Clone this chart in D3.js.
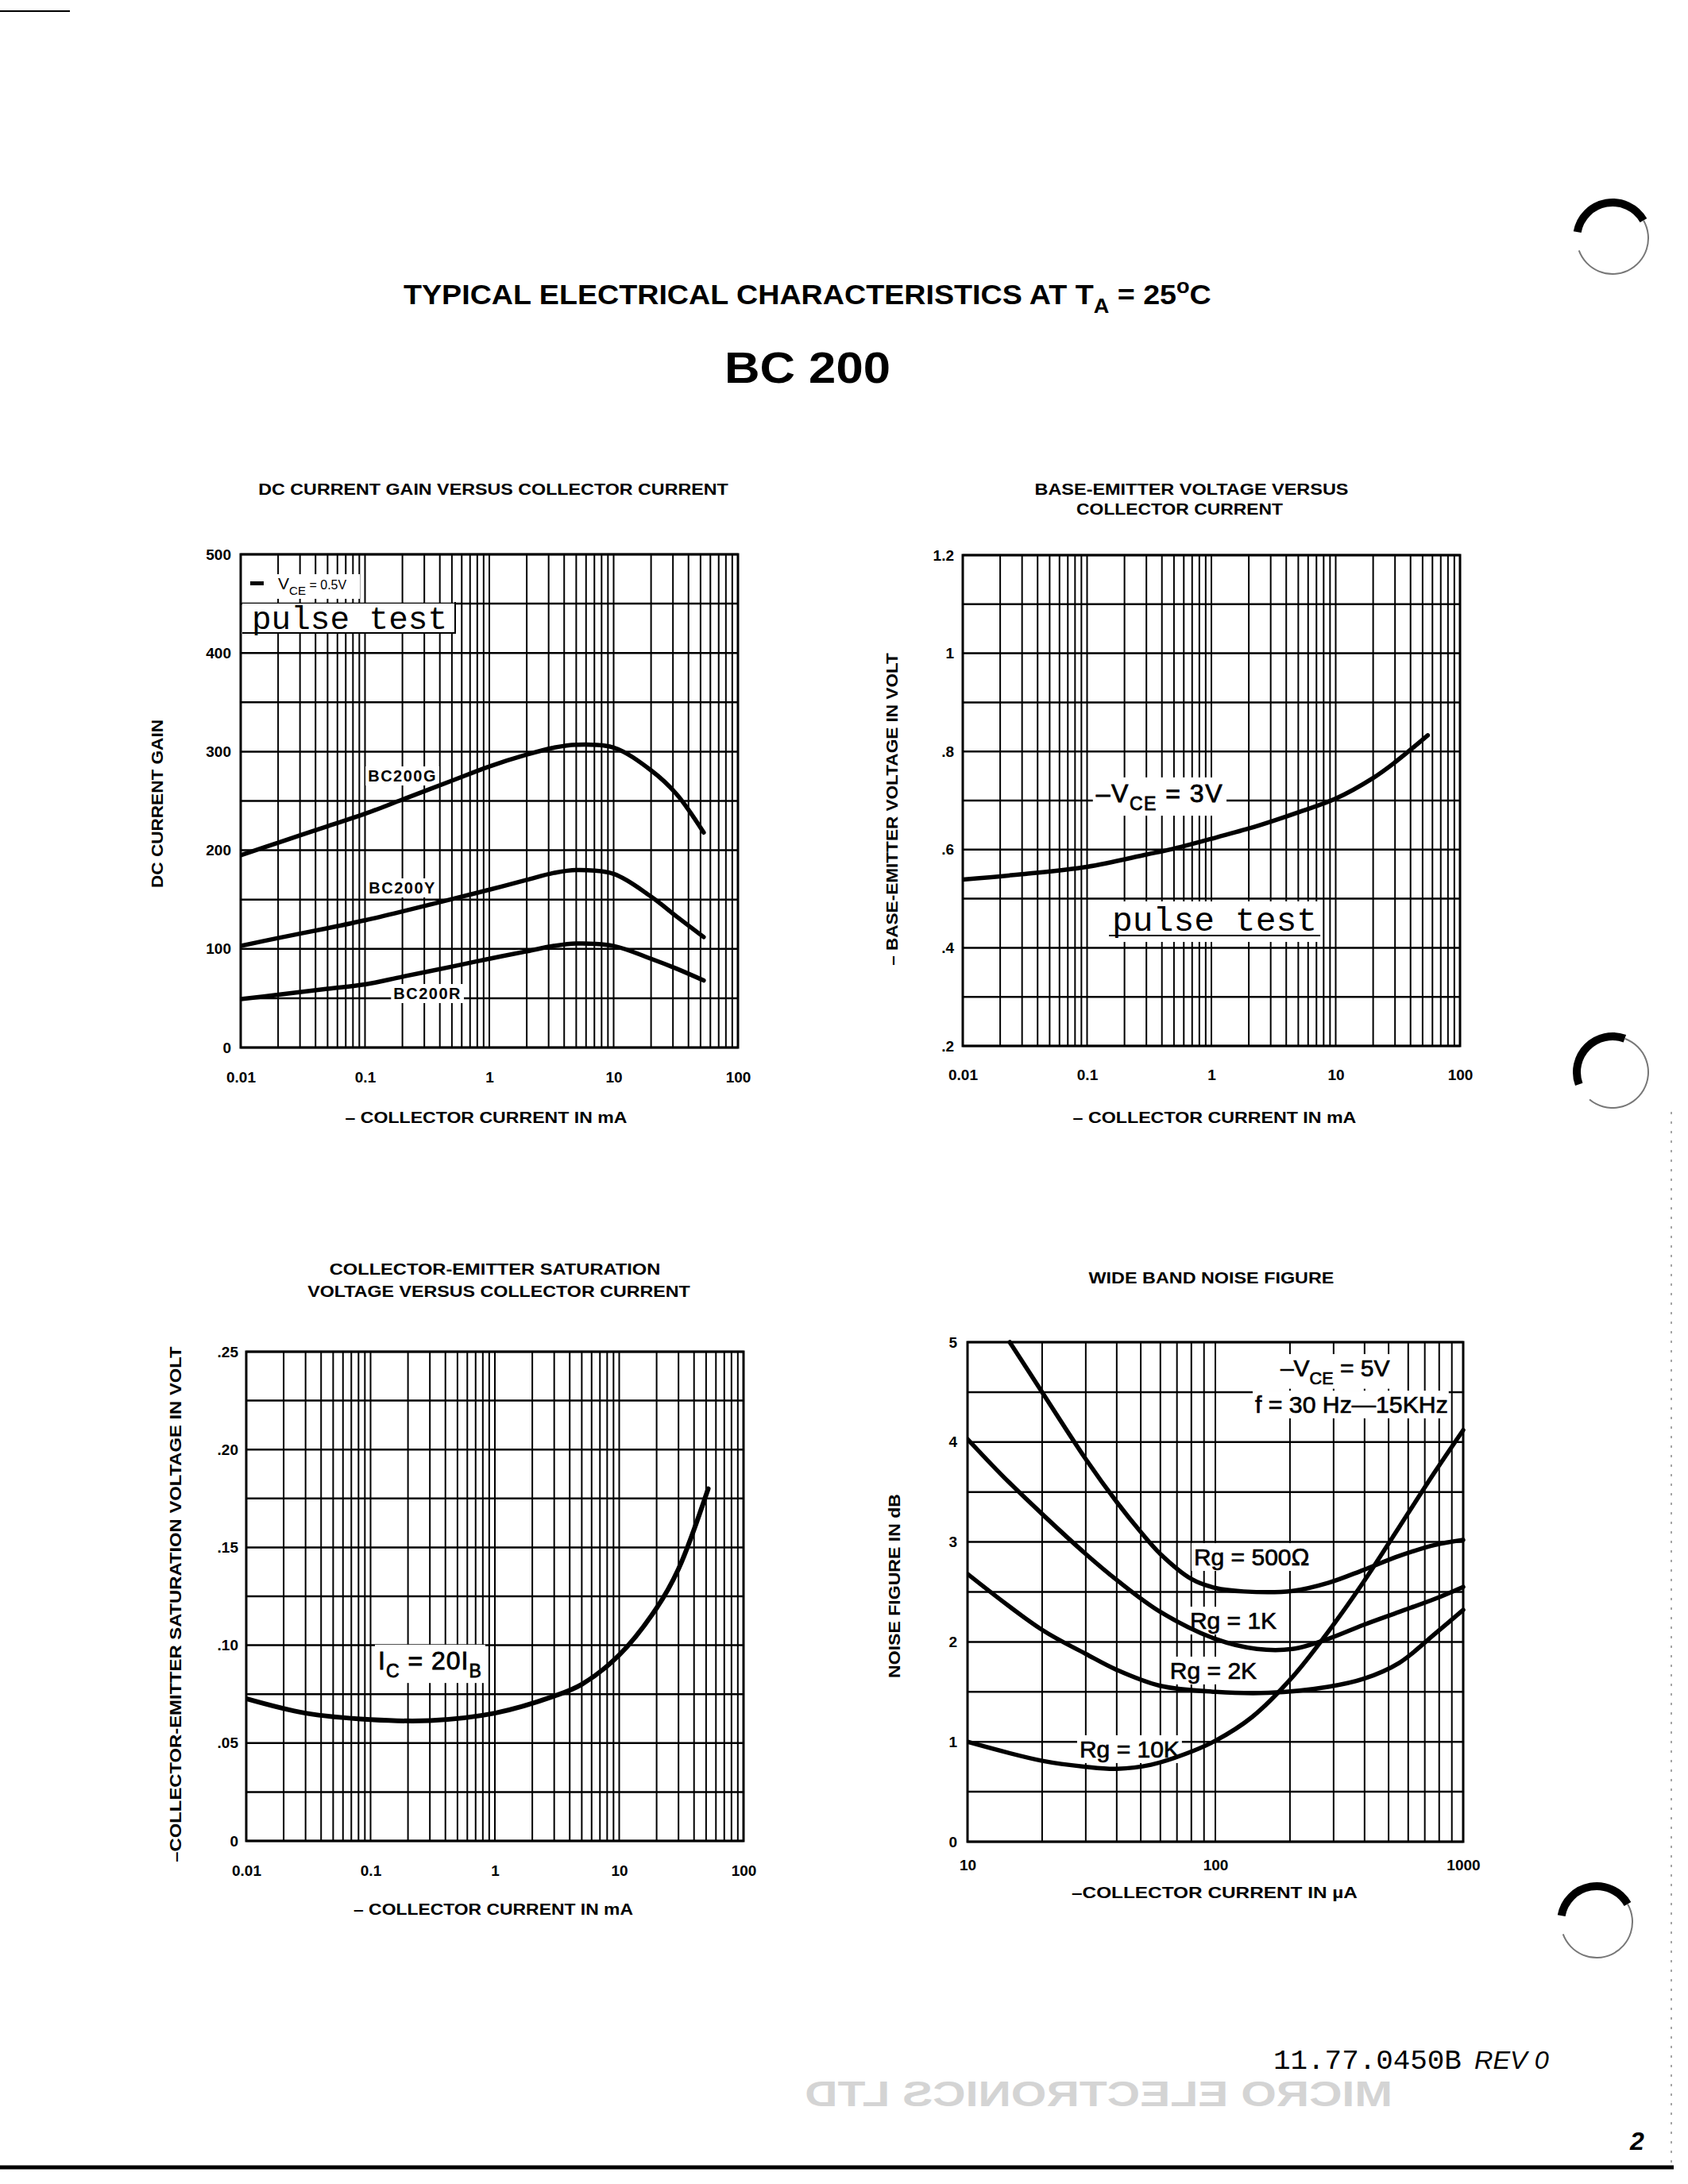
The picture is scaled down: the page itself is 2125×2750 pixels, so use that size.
<!DOCTYPE html>
<html><head><meta charset="utf-8">
<script src="https://cdn.jsdelivr.net/npm/d3@7"></script>
<style>
html,body{margin:0;padding:0;background:#fff;}
svg{display:block;}
</style></head><body>
<svg id="page" width="2125" height="2750"></svg>
<script>
// ================= DATA =================
// DC current gain vs collector current (mA)
const icGainX    = [0.01,0.02,0.05,0.1,0.2,0.5,1,2,3.3,5,10,20,32,53];
const gainBC200G = [195,207.6,224.4,237,251.4,270.5,285,297,304,307,304,281,257,218];
const gainBC200Y = [103,111,121,129,138,150.5,160,170,177,180,176,153,133,112];
const gainBC200R = [49,53.5,59.5,64,71.8,82,90,97.5,103,105.5,103,90,80,68];
const gainSeriesNames = ["BC200G","BC200Y","BC200R"];

// Base-emitter voltage vs collector current (mA)
const icVbeX = [0.01,0.03,0.1,0.3,0.5,1,2,3,5,10,20,30,55];
const vbeVolt = [0.539,0.55,0.565,0.59,0.602,0.622,0.643,0.657,0.676,0.704,0.746,0.778,0.833];

// Collector-emitter saturation voltage vs collector current (mA)
const icSatX = [0.01,0.03,0.1,0.3,1,3,5,10,20,30,52];
const vceSat = [0.0727,0.0653,0.062,0.0615,0.0653,0.074,0.080,0.095,0.119,0.139,0.180];

// Wide band noise figure (dB) vs collector current (uA)
const nfX500 = [14.8,20,30,40,50,60,80,100,130,205,285,396,552,768,1000];
const nf500  = [5,4.5,3.83,3.4,3.1,2.88,2.63,2.54,2.505,2.51,2.59,2.72,2.86,2.97,3.02];
const nfX1k  = [10,14,20,30,40,60,100,147,205,285,396,552,768,1000];
const nf1k   = [4.03,3.65,3.28,2.88,2.62,2.3,2.03,1.93,1.93,2.03,2.17,2.30,2.43,2.55];
const nfX2k  = [10,20,30,40,60,100,164,285,396,552,768,1000];
const nf2k   = [2.68,2.12,1.88,1.72,1.56,1.5,1.49,1.55,1.63,1.79,2.08,2.32];
const nfX10k = [10,20,30,40,55,76,100,141,205,285,396,552,768,1000];
const nf10k  = [1.0,0.81,0.75,0.73,0.77,0.88,1.01,1.25,1.65,2.1,2.6,3.15,3.7,4.12];
const nfSeriesNames = ["Rg = 500\u2126","Rg = 1K","Rg = 2K","Rg = 10K"];

// Ticks
const xTicksMA = [0.01,0.1,1,10,100];
const xTickLabelsMA = ["0.01","0.1","1","10","100"];
const xTicksUA = [10,100,1000];
const xTickLabelsUA = ["10","100","1000"];
const gainTicks = [0,100,200,300,400,500];
const gainTickLabels = ["0","100","200","300","400","500"];
const vbeTicks = [0.2,0.4,0.6,0.8,1,1.2];
const vbeTickLabels = [".2",".4",".6",".8","1","1.2"];
const satTicks = [0,0.05,0.1,0.15,0.2,0.25];
const satTickLabels = ["0",".05",".10",".15",".20",".25"];
const nfTicks = [0,1,2,3,4,5];
const nfTickLabels = ["0","1","2","3","4","5"];

// ================= DRAWING =================
const FONT = '"Liberation Sans", Arial, Helvetica, sans-serif';
const MONO = '"Liberation Mono", "Courier New", monospace';
const svg = d3.select('#page');
svg.append('rect').attr('width',2125).attr('height',2750).attr('fill','#fff');
const defs = svg.append('defs');

function fitWidth(sel, target){
  const w = sel.node().getBBox().width;
  if(!w) return sel;
  const k = target / w;
  const ax = +sel.attr('x') || 0;
  sel.attr('transform', `translate(${ax},0) scale(${k},1) translate(${-ax},0)`);
  return sel;
}
function txt(parent, x, y, s, o={}){
  const t = parent.append('text').attr('x',x).attr('y',y)
    .attr('font-family', o.family || FONT).attr('font-size', o.size || 20)
    .attr('font-weight', o.weight || 'normal').attr('text-anchor', o.anchor || 'start')
    .attr('fill','#000');
  if(o.style) t.attr('font-style', o.style);
  if(o.ls) t.attr('letter-spacing', o.ls);
  if(o.stroke) t.attr('stroke','#000').attr('stroke-width', o.stroke);
  if(Array.isArray(s)){
    let shift = 0;
    s.forEach(p=>{
      const [str, kind] = Array.isArray(p) ? p : [p,''];
      const target = kind==='sub' ? (o.size||20)*0.32 : kind==='sup' ? -(o.size||20)*0.4 : 0;
      const ts = t.append('tspan').text(str).attr('dy', target - shift);
      shift = target;
      if(kind) ts.attr('font-size', (o.size||20)*0.72);
    });
  } else t.text(s);
  if(o.width) fitWidth(t, o.width);
  return t;
}
function withBg(bgLayer, t, pad=4){
  const b = t.node().getBBox();
  bgLayer.append('rect').attr('x',b.x-pad).attr('y',b.y-pad+2)
    .attr('width',b.width+2*pad).attr('height',b.height+2*pad-4).attr('fill','#fff');
  return t;
}

function drawPanel(cfg){
  const b = cfg.box;
  const x = d3.scaleLog().domain(cfg.xDomain).range([b.left,b.right]);
  const y = d3.scaleLinear().domain(cfg.yDomain).range([b.bottom,b.top]);
  const g = svg.append('g');
  const gridG = g.append('g').attr('stroke','#000');
  gridG.selectAll('line.v').data(x.ticks()).join('line').attr('class','v')
    .attr('x1',d=>x(d)).attr('x2',d=>x(d)).attr('y1',b.top).attr('y2',b.bottom)
    .attr('stroke-width',2);
  const nH = Math.round((cfg.yDomain[1]-cfg.yDomain[0])/cfg.yGridStep);
  gridG.selectAll('line.h').data(d3.range(nH+1).map(i=>cfg.yDomain[0]+i*cfg.yGridStep)).join('line').attr('class','h')
    .attr('x1',b.left).attr('x2',b.right).attr('y1',d=>y(d)).attr('y2',d=>y(d))
    .attr('stroke-width',2.5);
  const bgG = g.append('g');
  const clipId = 'clip-' + cfg.key;
  defs.append('clipPath').attr('id',clipId).append('rect')
    .attr('x',b.left).attr('y',b.top-4).attr('width',b.right-b.left+4).attr('height',b.bottom-b.top+8);
  const curveG = g.append('g').attr('clip-path',`url(#${clipId})`);
  g.append('rect').attr('x',b.left).attr('y',b.top).attr('width',b.right-b.left).attr('height',b.bottom-b.top)
    .attr('fill','none').attr('stroke','#000').attr('stroke-width',3);
  const textG = g.append('g');

  const line = d3.line().x(d=>x(d[0])).y(d=>y(d[1])).curve(d3.curveCatmullRom.alpha(0.5));
  cfg.series.forEach(s=>{
    curveG.append('path').datum(d3.zip(s.xs, s.ys)).attr('d', line)
      .attr('fill','none').attr('stroke','#000').attr('stroke-width', cfg.curveWidth || 5.5)
      .attr('stroke-linecap','round').attr('stroke-linejoin','round');
  });

  const styleAxis = sel => {
    sel.select('.domain').remove();
    sel.attr('font-family',FONT).attr('font-size',19).attr('font-weight','bold').attr('color','#000');
  };
  g.append('g').attr('transform',`translate(${b.left},0)`)
    .call(d3.axisLeft(y).tickValues(cfg.yTicks).tickFormat((d,i)=>cfg.yTickLabels[i]).tickSize(0).tickPadding(cfg.yPad))
    .call(styleAxis);
  g.append('g').attr('transform',`translate(0,${b.bottom})`)
    .call(d3.axisBottom(x).tickValues(cfg.xTicks).tickFormat((d,i)=>cfg.xTickLabels[i]).tickSize(0).tickPadding(cfg.xPad))
    .call(styleAxis);

  // titles
  cfg.title.forEach(tl => txt(g, tl.cx, tl.y, tl.text, {size:21, weight:'bold', anchor:'middle', width: tl.w}));
  // y axis title
  const yg = g.append('g').attr('transform',`translate(${cfg.yTitle.x},${cfg.yTitle.cy}) rotate(-90)`);
  txt(yg, 0, 0, cfg.yTitle.text, {size:21, weight:'bold', anchor:'middle', width: cfg.yTitle.w});
  // x axis title
  txt(g, cfg.xTitle.cx, cfg.xTitle.y, cfg.xTitle.text, {size:21, weight:'bold', anchor:'middle', width: cfg.xTitle.w});

  return {x, y, g, bgG, textG, box:b};
}

// ---------- Page header ----------
txt(svg, 508, 383, ["TYPICAL ELECTRICAL CHARACTERISTICS AT T", ["A","sub"], " = 25", ["o","sup"], "C"],
    {size:35, weight:'bold', width:1017});
txt(svg, 912, 482, "BC 200", {size:56, weight:'bold', width:209});

// ---------- Panel 1: DC current gain ----------
const p1 = drawPanel({
  key:'gain', box:{left:303,right:929,top:698,bottom:1319},
  xDomain:[0.01,100], yDomain:[0,500], yGridStep:50,
  xTicks:xTicksMA, xTickLabels:xTickLabelsMA, yTicks:gainTicks, yTickLabels:gainTickLabels,
  yPad:12, xPad:31,
  series:[{xs:icGainX, ys:gainBC200G},{xs:icGainX, ys:gainBC200Y},{xs:icGainX, ys:gainBC200R}],
  title:[{cx:621, y:623, text:"DC CURRENT GAIN VERSUS COLLECTOR CURRENT", w:592}],
  yTitle:{x:205, cy:1012, text:"DC CURRENT GAIN", w:212},
  xTitle:{cx:612, y:1414, text:"\u2013 COLLECTOR CURRENT IN mA", w:355}
});
[[0.2,269.7,'middle'],[0.2,156.2,'middle'],[0.318,49.1,'middle']].forEach((p,i)=>{
  withBg(p1.bgG, txt(p1.textG, p1.x(p[0]), p1.y(p[1]), gainSeriesNames[i], {size:20, weight:'bold', anchor:p[2], ls:1.5}), 3);
});
// legend box (top-left of panel 1)
{
  const b = p1.box;
  p1.bgG.append('rect').attr('x',b.left+2).attr('y',b.top+25).attr('width',148).attr('height',31).attr('fill','#fff');
  p1.bgG.append('rect').attr('x',b.left+2).attr('y',b.top+62).attr('width',268).attr('height',37).attr('fill','#fff');
  p1.textG.append('line').attr('x1',b.left+2).attr('x2',b.left+270).attr('y1',b.top+99).attr('y2',b.top+99).attr('stroke','#000').attr('stroke-width',2);
  p1.textG.append('line').attr('x1',b.left+270).attr('x2',b.left+270).attr('y1',b.top+60).attr('y2',b.top+100).attr('stroke','#000').attr('stroke-width',2);
  p1.textG.append('rect').attr('x',b.left+12).attr('y',b.top+34).attr('width',17).attr('height',5).attr('fill','#000');
  const t = txt(p1.textG, b.left+47, b.top+44, ["V", ["CE","sub"]], {size:21});
  t.append('tspan').attr('dy',-6.7).attr('font-size',16).text(" = 0.5V");
  txt(p1.textG, b.left+14, b.top+94, "pulse test", {size:41, family:MONO});
}

// ---------- Panel 2: Base-emitter voltage ----------
const p2 = drawPanel({
  key:'vbe', box:{left:1212,right:1838,top:699,bottom:1317},
  xDomain:[0.01,100], yDomain:[0.2,1.2], yGridStep:0.1,
  xTicks:xTicksMA, xTickLabels:xTickLabelsMA, yTicks:vbeTicks, yTickLabels:vbeTickLabels,
  yPad:11, xPad:30,
  series:[{xs:icVbeX, ys:vbeVolt}],
  title:[{cx:1500, y:623, text:"BASE-EMITTER VOLTAGE VERSUS", w:395},
         {cx:1485, y:648, text:"COLLECTOR CURRENT", w:260}],
  yTitle:{x:1130, cy:1019, text:"\u2013 BASE-EMITTER VOLTAGE IN VOLT", w:394},
  xTitle:{cx:1529, y:1414, text:"\u2013 COLLECTOR CURRENT IN mA", w:357}
});
withBg(p2.bgG, txt(p2.textG, p2.x(0.118), p2.y(0.697), ["\u2013V", ["CE","sub"], " = 3V"], {size:32, ls:1.5, stroke:0.8}), 4);
{
  const t = withBg(p2.bgG, txt(p2.textG, p2.x(0.159), p2.y(0.4346), "pulse test", {size:43, family:MONO}), 3);
  const bb = t.node().getBBox();
  p2.textG.append('line').attr('x1',bb.x-4).attr('x2',bb.x+bb.width+4).attr('y1',p2.y(0.4346)+6).attr('y2',p2.y(0.4346)+6)
    .attr('stroke','#000').attr('stroke-width',2);
}

// ---------- Panel 3: Saturation voltage ----------
const p3 = drawPanel({
  key:'sat', box:{left:310,right:936,top:1702,bottom:2318},
  xDomain:[0.01,100], yDomain:[0,0.25], yGridStep:0.025,
  xTicks:xTicksMA, xTickLabels:xTickLabelsMA, yTicks:satTicks, yTickLabels:satTickLabels,
  yPad:10, xPad:31, curveWidth:6,
  series:[{xs:icSatX, ys:vceSat}],
  title:[{cx:623, y:1605, text:"COLLECTOR-EMITTER SATURATION", w:417},
         {cx:628, y:1633, text:"VOLTAGE VERSUS COLLECTOR CURRENT", w:482}],
  yTitle:{x:228, cy:2020, text:"\u2013COLLECTOR-EMITTER SATURATION VOLTAGE IN VOLT", w:650},
  xTitle:{cx:621, y:2411, text:"\u2013 COLLECTOR CURRENT IN mA", w:352}
});
withBg(p3.bgG, txt(p3.textG, p3.x(0.115), p3.y(0.0877), ["I", ["C","sub"], " = 20I", ["B","sub"]], {size:32, ls:1, stroke:0.8}), 4);

// ---------- Panel 4: Noise figure ----------
const p4 = drawPanel({
  key:'nf', box:{left:1218,right:1842,top:1690,bottom:2319},
  xDomain:[10,1000], yDomain:[0,5], yGridStep:0.5,
  xTicks:xTicksUA, xTickLabels:xTickLabelsUA, yTicks:nfTicks, yTickLabels:nfTickLabels,
  yPad:13, xPad:23,
  series:[{xs:nfX500, ys:nf500},{xs:nfX1k, ys:nf1k},{xs:nfX2k, ys:nf2k},{xs:nfX10k, ys:nf10k}],
  title:[{cx:1525, y:1616, text:"WIDE BAND NOISE FIGURE", w:309}],
  yTitle:{x:1133, cy:1997, text:"NOISE FIGURE IN dB", w:232},
  xTitle:{cx:1529, y:2390, text:"\u2013COLLECTOR CURRENT IN \u00b5A", w:360}
});
[[81.9,2.766],[78.9,2.13],[65.6,1.63],[28.3,0.843]].forEach((p,i)=>{
  withBg(p4.bgG, txt(p4.textG, p4.x(p[0]), p4.y(p[1]), nfSeriesNames[i], {size:30, stroke:0.7}), 3);
});
withBg(p4.bgG, txt(p4.textG, p4.x(183), p4.y(4.658), ["\u2013V", ["CE","sub"], " = 5V"], {size:30, stroke:0.7}), 3);
withBg(p4.bgG, txt(p4.textG, p4.x(144.6), p4.y(4.293), "f = 30 Hz\u201415KHz", {size:30, width:243, stroke:0.7}), 3);

// ---------- Page footer & scan marks ----------
{
  const ghost = svg.append('g').attr('transform','translate(2766,0) scale(-1,1)');
  txt(ghost, 1013, 2652, "MICRO ELECTRONICS LTD", {size:44, weight:'bold', width:740}).attr('fill','#d4d4d4');
}
txt(svg, 1603, 2605, "11.77.0450B", {size:36, family:MONO, width:237});
txt(svg, 1856, 2605, "REV 0", {size:32, style:'italic', width:94});
txt(svg, 2052, 2707, "2", {size:32, weight:'bold', style:'italic'});
svg.append('line').attr('x1',0).attr('x2',2107).attr('y1',2729).attr('y2',2729).attr('stroke','#000').attr('stroke-width',5);
svg.append('line').attr('x1',2104).attr('x2',2104).attr('y1',1400).attr('y2',2729).attr('stroke','#888').attr('stroke-width',1.5).attr('stroke-dasharray','3 9');
svg.append('line').attr('x1',0).attr('x2',88).attr('y1',14).attr('y2',14).attr('stroke','#000').attr('stroke-width',2);
// binder-hole marks
const arc = d3.arc();
[[2030,300,-80,60],[2030,1350,-110,20],[2010,2420,-80,60]].forEach(h=>{
  svg.append('path').attr('transform',`translate(${h[0]},${h[1]})`)
    .attr('d', arc({innerRadius:40, outerRadius:50, startAngle:h[2]*Math.PI/180, endAngle:h[3]*Math.PI/180}))
    .attr('fill','#000');
  svg.append('path').attr('transform',`translate(${h[0]},${h[1]})`)
    .attr('d', arc({innerRadius:44, outerRadius:46, startAngle:h[3]*Math.PI/180, endAngle:(h[2]+330)*Math.PI/180}))
    .attr('fill','#777');
});
</script>
</body></html>
